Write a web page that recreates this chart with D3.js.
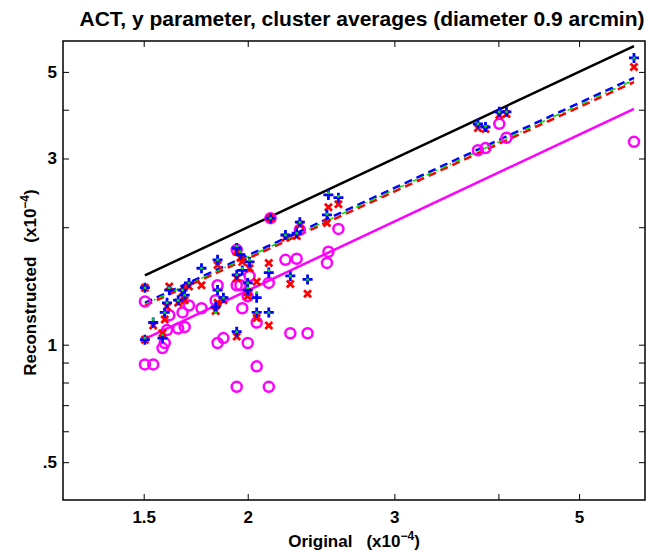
<!DOCTYPE html>
<html>
<head>
<meta charset="utf-8">
<script src="https://cdn.jsdelivr.net/npm/d3@7"></script>
<style>
  html, body { margin: 0; padding: 0; background: #fff; }
  #canvas { width: 662px; height: 552px; }
  text { font-family: "Liberation Sans", Arial, Helvetica, sans-serif; font-weight: bold; }
</style>
</head>
<body>
<div id="canvas" class="canvas"></div>
<script>
// data (units of 1e-4)
var origX     = [5.82,3.78,3.86,4.01,4.09,2.50,2.57,2.49,2.31,2.29,2.22,2.13,2.25,2.36,2.12,2.12,2.05,2.05,2.00,1.94,1.94,1.94,1.96,2.01,1.97,2.00,1.84,1.84,1.87,1.76,1.83,1.70,1.67,1.65,1.61,1.60,1.59,1.58,1.68,1.54,1.505,1.505];
var recBlue   = [5.43,3.68,3.61,3.95,3.95,2.42,2.38,2.15,2.06,1.93,1.91,2.11,1.50,1.47,1.53,1.21,1.21,1.32,1.44,1.08,1.51,1.77,1.70,1.63,1.55,1.38,1.65,1.38,1.32,1.57,1.25,1.44,1.38,1.30,1.38,1.28,1.21,1.04,1.34,1.14,1.40,1.03];
var recRed    = [5.15,3.59,3.57,3.88,3.90,2.25,2.29,2.05,2.03,1.90,1.88,2.11,1.43,1.35,1.62,1.12,1.17,1.45,1.36,1.05,1.48,1.73,1.67,1.57,1.63,1.33,1.60,1.28,1.30,1.42,1.22,1.41,1.36,1.28,1.41,1.25,1.16,1.07,1.30,1.12,1.40,1.03];
var recGreen  = [5.43,3.68,3.63,3.95,3.95,2.45,2.40,2.16,2.06,1.93,1.91,2.11,1.50,1.47,1.55,1.21,1.21,1.36,1.44,1.08,1.51,1.79,1.73,1.65,1.57,1.40,1.65,1.38,1.32,1.57,1.21,1.44,1.38,1.30,1.40,1.28,1.21,1.06,1.34,1.16,1.40,1.04];
var recMag    = [3.31,3.15,3.19,3.68,3.39,1.73,1.98,1.62,1.97,1.66,1.65,2.11,1.07,1.07,1.44,0.78,0.88,1.14,1.33,0.78,1.42,1.75,1.42,1.50,1.24,1.01,1.42,1.01,1.04,1.24,1.30,1.26,1.21,1.10,1.19,1.09,1.01,0.98,1.11,0.89,1.29,0.89];

// fitted lines, end values at the smallest and largest original value
var fitX      = [1.505, 5.82];
var fitIdent  = [1.505, 5.82];
var fitBlue   = [1.28, 4.83];
var fitRed    = [1.26, 4.71];
var fitGreen  = [1.27, 4.77];
var fitMag    = [1.035, 4.02];

var xTicks = [1.5, 2, 3, 4, 5];
var xLabels = {1.5:'1.5', 2:'2', 3:'3', 5:'5'};
var yTicks = [0.5, 0.6, 0.7, 0.8, 0.9, 1, 2, 3, 4, 5];
var yLabels = {0.5:'.5', 1:'1', 3:'3', 5:'5'};

var m = {t:41, r:17, b:52, l:63};
var outerWidth = 662, outerHeight = 552;
var w = outerWidth - m.l - m.r,
    h = outerHeight - m.t - m.b;

var svg = d3.select('.canvas').append('svg')
    .attr('width', outerWidth)
    .attr('height', outerHeight);
var plot = svg.append('g')
    .attr('transform', 'translate(' + m.l + ',' + m.t + ')');

var scaleX = d3.scaleLog().domain([1.2, 6]).range([0, w]);
var scaleY = d3.scaleLog().domain([0.4, 6]).range([h, 0]);

// axes (ticks inside, on all four sides)
var tl = 6;
function styleAxis(g){
    g.select('.domain').remove();
    g.selectAll('line').attr('stroke', '#000').attr('stroke-width', 1);
    g.selectAll('text').attr('font-size', 17).attr('fill', '#000');
}
plot.append('g').attr('transform', 'translate(0,' + h + ')')
    .call(d3.axisBottom(scaleX).tickValues(xTicks).tickSizeInner(-tl).tickSizeOuter(0).tickPadding(11)
        .tickFormat(function(d){ return xLabels[d] || ''; }))
    .call(styleAxis);
plot.append('g')
    .call(d3.axisTop(scaleX).tickValues(xTicks).tickSizeInner(-tl).tickSizeOuter(0).tickFormat(''))
    .call(styleAxis);
plot.append('g')
    .call(d3.axisLeft(scaleY).tickValues(yTicks).tickSizeInner(-tl).tickSizeOuter(0).tickPadding(6)
        .tickFormat(function(d){ return yLabels[d] || ''; }))
    .call(styleAxis);
plot.append('g').attr('transform', 'translate(' + w + ',0)')
    .call(d3.axisRight(scaleY).tickValues(yTicks).tickSizeInner(-tl).tickSizeOuter(0).tickFormat(''))
    .call(styleAxis);

plot.append('rect')
    .attr('width', w).attr('height', h)
    .attr('fill', 'none').attr('stroke', '#000').attr('stroke-width', 1.5);

// lines
var line = d3.line()
    .x(function(d){ return scaleX(d[0]); })
    .y(function(d){ return scaleY(d[1]); });
function drawFit(ys, color, width, dash){
    plot.append('path')
        .datum(fitX.map(function(x, i){ return [x, ys[i]]; }))
        .attr('d', line)
        .attr('fill', 'none')
        .attr('stroke', color)
        .attr('stroke-width', width)
        .attr('stroke-dasharray', dash);
}
drawFit(fitIdent, '#000', 2.5, null);
drawFit(fitMag, '#ff00ff', 2.5, null);
drawFit(fitBlue, '#0000ff', 2.5, '8,5');
drawFit(fitRed, '#ff0000', 2.5, '8,5');
drawFit(fitGreen, '#00dd00', 1.5, '6,4,1.5,4');

// markers
var pts = plot.append('g');
pts.selectAll('.mag').data(origX).enter().append('circle')
    .attr('cx', function(d){ return scaleX(d); })
    .attr('cy', function(d, i){ return scaleY(recMag[i]); })
    .attr('r', 5)
    .attr('fill', 'none').attr('stroke', '#ff00ff').attr('stroke-width', 2.5);
pts.selectAll('.red').data(origX).enter().append('path')
    .attr('transform', function(d, i){ return 'translate(' + scaleX(d) + ',' + scaleY(recRed[i]) + ')'; })
    .attr('d', 'M-3.5,-3.5L3.5,3.5M-3.5,3.5L3.5,-3.5')
    .attr('stroke', '#ff0000').attr('stroke-width', 2.8);
pts.selectAll('.blue').data(origX).enter().append('path')
    .attr('transform', function(d, i){ return 'translate(' + scaleX(d) + ',' + scaleY(recBlue[i]) + ')'; })
    .attr('d', 'M-5,0H5M0,-5V5')
    .attr('stroke', '#0000ff').attr('stroke-width', 2.8);
pts.selectAll('.green').data(origX).enter().append('circle')
    .attr('cx', function(d){ return scaleX(d); })
    .attr('cy', function(d, i){ return scaleY(recGreen[i]); })
    .attr('r', 1.5)
    .attr('fill', '#00dd00');

// texts
svg.append('text')
    .attr('x', m.l + w/2 + 8).attr('y', 26)
    .attr('text-anchor', 'middle').attr('font-size', 21)
    .text('ACT, y parameter, cluster averages (diameter 0.9 arcmin)');

function axisLabel(sel, word){
    sel.append('tspan').text(word);
    sel.append('tspan').attr('dx', 14).text('(x10');
    sel.append('tspan').attr('dy', -7).attr('font-size', 12).text('\u22124');
    sel.append('tspan').attr('dy', 7).text(')');
}
var xl = svg.append('text')
    .attr('x', m.l + w/2).attr('y', 547)
    .attr('text-anchor', 'middle').attr('font-size', 17);
axisLabel(xl, 'Original');

var yl = svg.append('text')
    .attr('transform', 'translate(36,' + (m.t + h/2 + 12) + ') rotate(-90)')
    .attr('text-anchor', 'middle').attr('font-size', 17);
axisLabel(yl, 'Reconstructed');
</script>
</body>
</html>
